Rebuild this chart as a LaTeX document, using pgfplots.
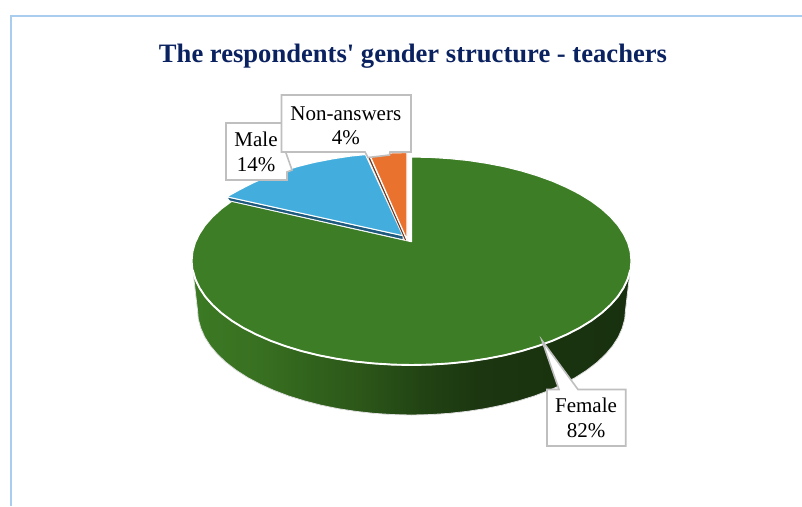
\documentclass[border=0pt]{standalone}
\usepackage{pgfplots}
\usepackage{fontspec}
\setmainfont{Liberation Serif}
\pgfplotsset{compat=1.18}
\definecolor{frameblue}{RGB}{169,205,238}
\definecolor{titleblue}{RGB}{11,34,96}
\definecolor{femalegreen}{RGB}{60,125,37}
\definecolor{maleblue}{RGB}{67,174,222}
\definecolor{maledark}{RGB}{30,90,125}
\definecolor{nonorange}{RGB}{233,114,47}
\definecolor{nonbrown}{RGB}{110,55,30}
\definecolor{calloutgrey}{RGB}{191,191,191}
\definecolor{wallA}{RGB}{60,122,36}
\definecolor{wallB}{RGB}{56,112,33}
\definecolor{wallC}{RGB}{50,101,29}
\definecolor{wallD}{RGB}{44,87,25}
\definecolor{wallE}{RGB}{34,68,20}
\definecolor{wallF}{RGB}{27,54,16}
\definecolor{wallG}{RGB}{24,48,14}
\pgfdeclarehorizontalshading{pieWall}{100bp}{
  color(0bp)=(wallA);
  color(25bp)=(wallA);
  color(32.7bp)=(wallB);
  color(37.3bp)=(wallC);
  color(44.1bp)=(wallD);
  color(51bp)=(wallE);
  color(57.8bp)=(wallF);
  color(75bp)=(wallG);
  color(100bp)=(wallG)}
\tikzset{
  callout/.style={draw=calloutgrey, line width=1.6pt, fill=white, line join=miter},
  lbl/.style={anchor=base, font=\fontsize{21}{21}\selectfont, inner sep=0pt, text=black},
}
\begin{document}
\begin{tikzpicture}[x=1pt,y=1pt]
\useasboundingbox (0,0) rectangle (802,506);
\begin{axis}[
  at={(0,0)}, anchor=south west,
  width=802pt, height=506pt, scale only axis,
  xmin=0, xmax=802, ymin=0, ymax=506, y dir=reverse,
  hide axis, clip=false,
]
% chart frame
\addplot[frameblue, line width=2pt, forget plot] coordinates {(802,15.5)(10.7,15.5)(10.7,506)};

% side wall of the Female slice
\addplot[shading=pieWall, draw=white!88!black, line width=0.8pt, forget plot] coordinates {
 (631,263)(625.5,310)(624.7,319.2)(622.2,328.2)(618.2,337.2)(612.6,345.9)(605.4,354.4)
 (596.8,362.5)(586.8,370.2)(575.4,377.5)(562.8,384.2)(549.1,390.4)(534.3,396.0)(518.5,400.9)
 (501.9,405.2)(484.7,408.7)(466.9,411.4)(448.7,413.4)(430.2,414.6)(411.5,415)(392.8,414.6)
 (374.3,413.4)(356.1,411.4)(338.3,408.7)(321.1,405.2)(304.5,400.9)(288.7,396.0)(273.9,390.4)
 (260.2,384.2)(247.6,377.5)(236.2,370.2)(226.2,362.5)(217.6,354.4)(210.4,345.9)(204.8,337.2)
 (200.8,328.2)(198.3,319.2)(197.5,310)(192,263)} -- cycle;

% Female, top face
\addplot[fill=femalegreen, draw=white, line width=1.1pt, line join=round, forget plot] coordinates {
 (411.5,157)(430.6,157.4)(449.6,158.6)(468.3,160.5)(486.6,163.3)(504.3,166.7)(521.3,170.9)
 (537.4,175.8)(552.6,181.3)(566.7,187.5)(579.6,194.1)(591.3,201.3)(601.6,209.0)(610.4,217.0)
 (617.8,225.4)(623.5,234.1)(627.7,242.9)(630.2,251.9)(631,261)(630.2,270.1)(627.7,279.1)
 (623.5,287.9)(617.8,296.6)(610.4,305.0)(601.6,313.0)(591.3,320.7)(579.6,327.9)(566.7,334.5)
 (552.6,340.7)(537.4,346.2)(521.3,351.1)(504.3,355.3)(486.6,358.7)(468.3,361.5)(449.6,363.4)
 (430.6,364.6)(411.5,365)(392.4,364.6)(373.4,363.4)(354.7,361.5)(336.4,358.7)(318.7,355.3)
 (301.7,351.1)(285.6,346.2)(270.4,340.7)(256.3,334.5)(243.4,327.9)(231.7,320.7)(221.4,313.0)
 (212.6,305.0)(205.2,296.6)(199.5,287.9)(195.3,279.1)(192.8,270.1)(192,261)(192.8,251.9)
 (195.3,242.9)(199.5,234.1)(205.2,225.4)(212.6,217.0)(221.4,209.0)(231.7,201.3)(411.5,241.7)} -- cycle;
% heavier rim where the top face meets the wall
\addplot[white, line width=1.9pt, forget plot] coordinates {
 (630.2,270.1)(627.7,279.1)
 (623.5,287.9)(617.8,296.6)(610.4,305.0)(601.6,313.0)(591.3,320.7)(579.6,327.9)(566.7,334.5)
 (552.6,340.7)(537.4,346.2)(521.3,351.1)(504.3,355.3)(486.6,358.7)(468.3,361.5)(449.6,363.4)
 (430.6,364.6)(411.5,365)(392.4,364.6)(373.4,363.4)(354.7,361.5)(336.4,358.7)(318.7,355.3)
 (301.7,351.1)(285.6,346.2)(270.4,340.7)(256.3,334.5)(243.4,327.9)(231.7,320.7)(221.4,313.0)
 (212.6,305.0)(205.2,296.6)(199.5,287.9)(195.3,279.1)(192.8,270.1)};

% Male, cut face and top face
\addplot[fill=maledark, draw=white, line width=0.7pt, forget plot] coordinates {
 (226.8,196.8)(403,235.7)(403,239.6)(229.5,200.8)} -- cycle;
\addplot[fill=maleblue, draw=white, line width=1.1pt, line join=round, forget plot] coordinates {
 (403,235.7)(226.8,196.8)(239.9,189.6)(252.8,183)(266.9,176.8)(282.1,171.3)(298.2,166.4)
 (315.2,162.2)(332.9,158.8)(351.2,156)(365.5,154.6)} -- cycle;

% Non-answers, cut face and top face
\addplot[fill=nonbrown, draw=white, line width=0.5pt, forget plot] coordinates {
 (366.8,155)(369,155)(407,240.5)(404.8,240.5)} -- cycle;
\addplot[fill=nonorange, draw=white, line width=1.2pt, line join=round, forget plot] coordinates {
 (407,240)(369.5,154.6)(388,153)(407,152.5)} -- cycle;

% Male callout
\addplot[callout, forget plot] coordinates {
 (226,123)(285,123)(285,152)(286,153)(292,170)(287,172)(287,180)(226,180)} -- cycle;
% Non-answers callout
\addplot[callout, forget plot] coordinates {
 (281.5,95)(411,95)(411,152)(390,152)(389.5,155)(368,157.5)(365,152)(281.5,152)} -- cycle;
% Female callout
\addplot[callout, forget plot] coordinates {
 (547,389.5)(559,389.5)(542,340.5)(578,389.5)(625.7,389.5)(625.7,446)(547,446)} -- cycle;

\node[lbl] at (axis cs:256,146.7) {Male};
\node[lbl] at (axis cs:256,171.7) {14\%};
\node[lbl] at (axis cs:345.8,120) {Non-answers};
\node[lbl] at (axis cs:345.8,144) {4\%};
\node[lbl] at (axis cs:586,412.7) {Female};
\node[lbl] at (axis cs:586,437.7) {82\%};

\node[anchor=base, inner sep=0pt, text=titleblue, font=\fontsize{26.6}{26.6}\selectfont\bfseries] at (axis cs:413,62)
  {The respondents\textquotesingle{} gender structure - teachers};
\end{axis}
\end{tikzpicture}
\end{document}
